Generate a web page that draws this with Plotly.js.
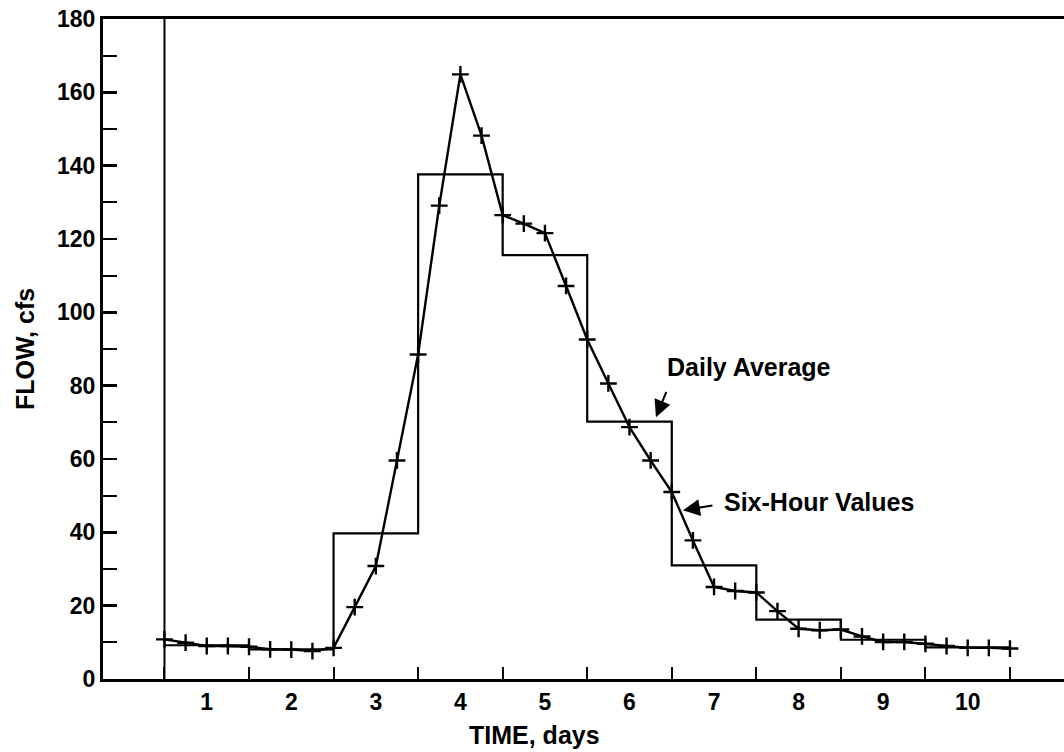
<!DOCTYPE html>
<html>
<head>
<meta charset="utf-8">
<script src="https://cdn.plot.ly/plotly-3.0.1.min.js"></script>
<style>html,body{margin:0;padding:0;background:#fff;}</style>
</head>
<body>
<div id="chart" style="width:1064px;height:752px;"></div>
<script>
// Six-hour flow values (time in days, flow in cfs)
const sixHourTimes = [0.5,0.75,1.0,1.25,1.5,1.75,2.0,2.25,2.5,2.75,3.0,3.25,3.5,3.75,4.0,4.25,4.5,4.75,5.0,5.25,5.5,5.75,6.0,6.25,6.5,6.75,7.0,7.25,7.5,7.75,8.0,8.25,8.5,8.75,9.0,9.25,9.5,9.75,10.0,10.25,10.5];
const sixHourFlow  = [10.8,9.9,9.0,9.0,8.8,8.1,8.0,7.6,8.5,19.6,30.8,59.6,88.5,129.1,164.9,148.2,126.5,124.2,121.6,107.2,92.6,80.6,68.7,59.6,51.0,37.8,25.1,24.0,23.6,18.5,13.7,13.3,13.5,11.6,10.1,10.1,9.6,9.0,8.5,8.5,8.3];

// Daily averages (day number, flow in cfs)
const dayNumbers = [1,2,3,4,5,6,7,8,9,10];
const dailyAverageFlow = [9.2,8.1,39.7,137.6,115.6,70.2,31.0,16.2,10.7,8.6];

// Axis tick labels
const xTickValues = [1,2,3,4,5,6,7,8,9,10];
const xTickLabels = ['1','2','3','4','5','6','7','8','9','10'];
const yTickValues = [0,20,40,60,80,100,120,140,160,180];
const yTickLabels = ['0','20','40','60','80','100','120','140','160','180'];

// Build step series (each day spans day-0.5 .. day+0.5)
const stepX = dayNumbers.map(d => d - 0.5).concat([dayNumbers[dayNumbers.length-1] + 0.5]);
const stepY = dailyAverageFlow.concat([dailyAverageFlow[dailyAverageFlow.length-1]]);

const FONT = 'Liberation Sans, Arial, Helvetica, sans-serif';

const traces = [
  {
    x: stepX, y: stepY, type: 'scatter', mode: 'lines',
    line: {shape: 'hv', color: '#000', width: 2.2},
    name: 'Daily Average', hoverinfo: 'skip'
  },
  {
    x: sixHourTimes, y: sixHourFlow, type: 'scatter', mode: 'lines+markers',
    line: {color: '#000', width: 2.4},
    marker: {symbol: 'cross-thin', size: 12, color: '#000', line: {color: '#000', width: 2.4}},
    name: 'Six-Hour Values'
  }
];

const layout = {
  width: 1064, height: 752,
  margin: {l: 103, r: 0, t: 18.5, b: 73.3, pad: 0},
  paper_bgcolor: '#fff', plot_bgcolor: '#fff',
  showlegend: false,
  font: {family: FONT, color: '#000', size: 23, weight: 'bold'},
  xaxis: {
    range: [-0.227, 11.139],
    tickmode: 'array', tickvals: xTickValues, ticktext: xTickLabels,
    ticks: '', showgrid: false, zeroline: false,
    showline: true, linecolor: '#000', linewidth: 3, mirror: true,
    tickfont: {family: FONT, size: 23, weight: 'bold', color: '#000'},
    minor: {tick0: 0.5, dtick: 1, ticks: 'inside', ticklen: 12, tickwidth: 2, tickcolor: '#000', showgrid: false}
  },
  yaxis: {
    range: [0, 180],
    tickmode: 'array', tickvals: yTickValues, ticktext: yTickLabels,
    ticks: 'inside', ticklen: 14, tickwidth: 2.5, tickcolor: '#000',
    showgrid: false, zeroline: false,
    showline: true, linecolor: '#000', linewidth: 3, mirror: false,
    tickfont: {family: FONT, size: 23, weight: 'bold', color: '#000'},
    minor: {tick0: 0, dtick: 10, ticks: 'inside', ticklen: 14, tickwidth: 2, tickcolor: '#000', showgrid: false},
    title: {text: 'FLOW, cfs', font: {family: FONT, size: 25, weight: 'bold', color: '#000'}, standoff: 16}
  },
  shapes: [
    {type: 'line', xref: 'x', yref: 'paper', x0: 0.5, x1: 0.5, y0: 0, y1: 1, line: {color: '#000', width: 2}}
  ],
  annotations: [
    {text: 'TIME, days', x: 0.4495, y: -0.0853, xref: 'paper', yref: 'paper', showarrow: false,
     xanchor: 'center', yanchor: 'middle', font: {family: FONT, size: 25, weight: 'bold', color: '#000'}},
    {text: 'Daily Average', x: 7.413, y: 85.0, xref: 'x', yref: 'y', showarrow: false,
     xanchor: 'center', yanchor: 'middle', font: {family: FONT, size: 25, weight: 'bold', color: '#000'}},
    {text: '', x: 6.313, y: 71.4, ax: 6.443, ay: 78.7, xref: 'x', yref: 'y', axref: 'x', ayref: 'y',
     showarrow: true, arrowhead: 2, arrowsize: 1.7, arrowwidth: 2, arrowcolor: '#000'},
    {text: 'Six-Hour Values', x: 7.094, y: 48.2, xref: 'x', yref: 'y', showarrow: false,
     xanchor: 'left', yanchor: 'middle', font: {family: FONT, size: 25, weight: 'bold', color: '#000'}},
    {text: '', x: 6.632, y: 46.0, ax: 6.999, ay: 47.4, xref: 'x', yref: 'y', axref: 'x', ayref: 'y',
     showarrow: true, arrowhead: 2, arrowsize: 1.7, arrowwidth: 2, arrowcolor: '#000'}
  ]
};

Plotly.newPlot('chart', traces, layout, {displayModeBar: false, staticPlot: true});
</script>
</body>
</html>
